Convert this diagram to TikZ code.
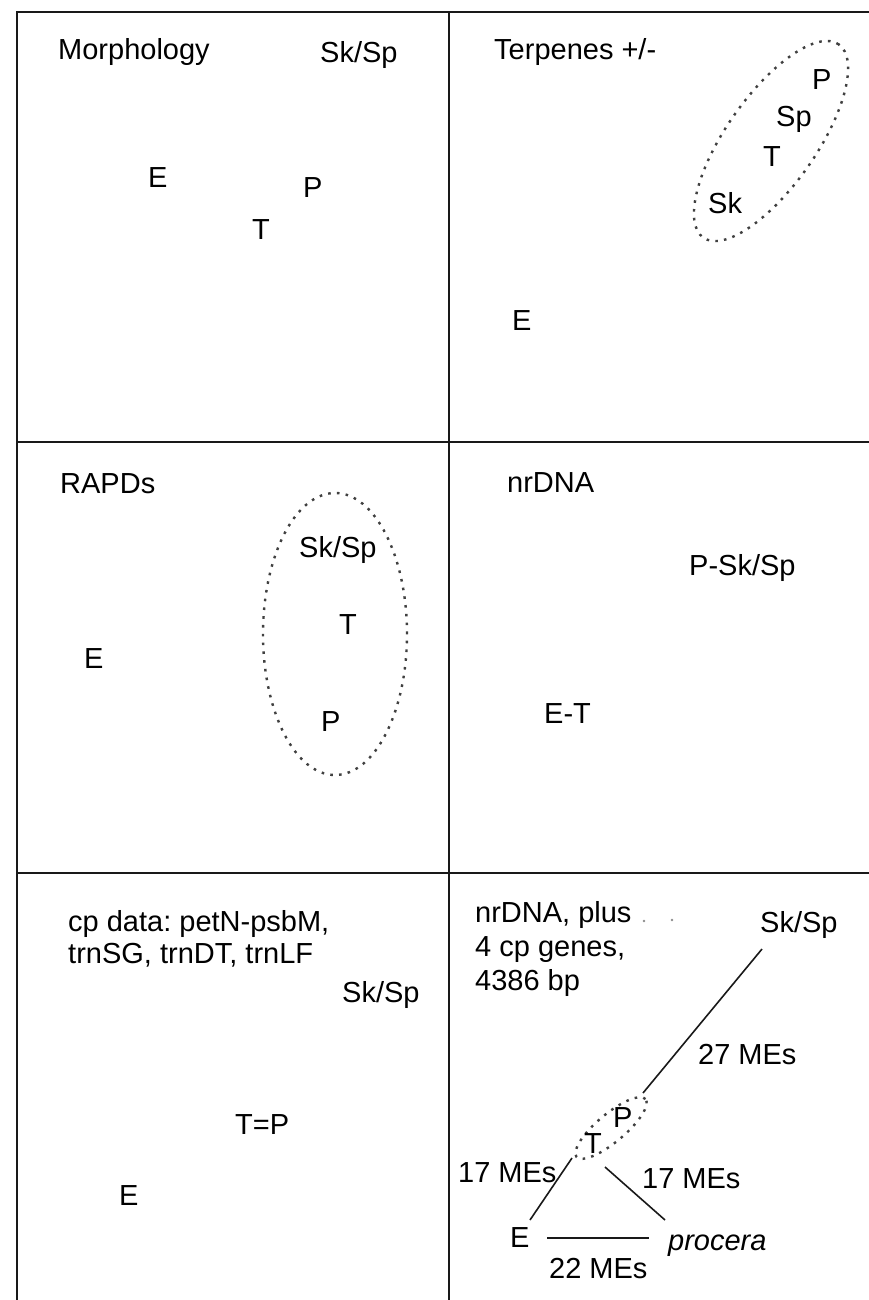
\documentclass[tikz,border=0pt]{standalone}
\usepackage{fontspec}
\setmainfont{Liberation Sans}
\usetikzlibrary{shapes.geometric}
\frenchspacing
\begin{document}
\begin{tikzpicture}[x=1pt,y=-1pt,
  lbl/.style={anchor=base west, inner sep=0pt, font=\fontsize{29}{34}\selectfont},
  frameline/.style={line width=2.6pt, line cap=rect, draw=black!90},
  grp/.style={draw=black!75, ellipse, line width=2.4pt, dash pattern=on 2.6pt off 6.2pt, inner sep=0pt},
  link/.style={line width=1.6pt, draw=black!90}]
\useasboundingbox (0,0) rectangle (868,1300);
% frame
\draw[frameline] (17,1300) -- (17,12) -- (868,12);
\draw[frameline] (17,442) -- (868,442);
\draw[frameline] (17,873) -- (868,873);
\draw[line width=2pt, draw=black!90] (449,12) -- (449,1300);

% panel 1: Morphology
\node[lbl] (m-title) at (58,60) {Morphology};
\node[lbl] (m-sksp) at (320,63) {Sk/Sp};
\node[lbl] (m-e) at (148,187) {E};
\node[lbl] (m-p) at (303,197) {P};
\node[lbl] (m-t) at (252,239) {T};

% panel 2: Terpenes
\node[lbl] (t-title) at (494,60) {Terpenes +/-};
\node[grp, minimum width=236pt, minimum height=90pt, rotate=55] (t-grp) at (771,141) {};
\node[lbl] (t-p) at (812,90) {P};
\node[lbl] (t-sp) at (776,127) {Sp};
\node[lbl] (t-t) at (763,167) {T};
\node[lbl] (t-sk) at (708,213) {Sk};
\node[lbl] (t-e) at (512,330) {E};

% panel 3: RAPDs
\node[lbl] (r-title) at (60,493) {RAPDs};
\node[grp, minimum width=144pt, minimum height=282pt] (r-grp) at (335,634) {};
\node[lbl] (r-sksp) at (299,557) {Sk/Sp};
\node[lbl] (r-t) at (339,634) {T};
\node[lbl] (r-e) at (84,668) {E};
\node[lbl] (r-p) at (321,731) {P};

% panel 4: nrDNA
\node[lbl] (n-title) at (507,492) {nrDNA};
\node[lbl] (n-psksp) at (689,575) {P-Sk/Sp};
\node[lbl] (n-et) at (544,723) {E-T};

% panel 5: cp data
\node[lbl] (c-title1) at (68,931) {cp data: petN-psbM,};
\node[lbl] (c-title2) at (68,963) {trnSG, trnDT, trnLF};
\node[lbl] (c-sksp) at (342,1002) {Sk/Sp};
\node[lbl] (c-tp) at (235,1134) {T=P};
\node[lbl] (c-e) at (119,1205) {E};

% panel 6: combined network
\node[lbl] (x-title1) at (475,922) {nrDNA, plus};
\node[lbl] (x-title2) at (475,956) {4 cp genes,};
\node[lbl] (x-title3) at (475,990) {4386 bp};
\fill[black!45] (644,921) circle (1.3);
\fill[black!45] (672,920) circle (1.3);
\node[lbl] (x-sksp) at (760,932) {Sk/Sp};
\node[lbl] (x-27) at (698,1064) {27 MEs};
\node[grp, minimum width=90pt, minimum height=28pt, rotate=40] (x-grp) at (611,1128) {};
\node[lbl] (x-p) at (613,1127) {P};
\node[lbl] (x-t) at (584,1153) {T};
\node[lbl] (x-17a) at (458,1182) {17 MEs};
\node[lbl] (x-17b) at (642,1188) {17 MEs};
\node[lbl] (x-e) at (510,1247) {E};
\node[lbl] (x-procera) at (668,1250) {\itshape procera};
\node[lbl] (x-22) at (549,1278) {22 MEs};

\coordinate (a1) at (762,949); \coordinate (a2) at (643,1093);
\coordinate (b1) at (572,1158); \coordinate (b2) at (530,1220);
\coordinate (c1) at (605,1167); \coordinate (c2) at (665,1220);
\coordinate (d1) at (547,1238); \coordinate (d2) at (649,1238);
\draw[link] (a1) -- (a2);
\draw[link] (b1) -- (b2);
\draw[link] (c1) -- (c2);
\draw[link] (d1) -- (d2);
\end{tikzpicture}
\end{document}
